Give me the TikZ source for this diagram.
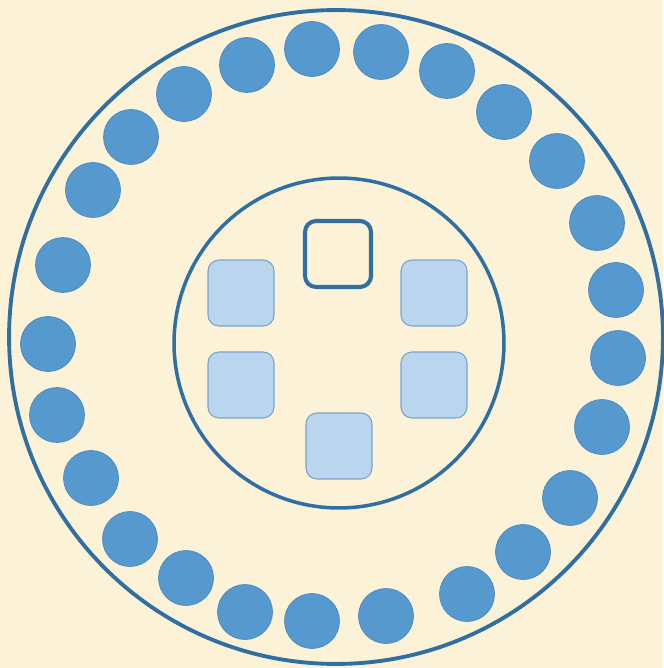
\documentclass[tikz,border=0pt]{standalone}
\usepackage{tikz}
\definecolor{bgcream}{HTML}{FCF2D7}
\definecolor{ringblue}{HTML}{2F6FA3}
\definecolor{dotblue}{HTML}{5599CF}
\definecolor{dotedge}{HTML}{4A88BF}
\definecolor{boxfill}{HTML}{BAD6EE}
\definecolor{boxedge}{HTML}{7AA3CC}
\tikzset{
    ring/.style={draw=ringblue, line width=2.2pt},
    seat/.style={circle, fill=dotblue, draw=dotedge, line width=0.4pt, minimum size=1.1cm, inner sep=0pt},
    tablebox/.style={rectangle, rounded corners=0.22cm, minimum size=1.32cm, inner sep=0pt, fill=boxfill, draw=boxedge, line width=0.6pt},
    emptybox/.style={rectangle, rounded corners=0.22cm, minimum size=1.32cm, inner sep=0pt, draw=ringblue, line width=2.3pt}
}

\begin{document}
\begin{tikzpicture}[x=0.02cm, y=-0.02cm]
    % Background
    \fill[bgcream] (0,0) rectangle (663,668);
    \useasboundingbox (0,0) rectangle (663,668);

    % Draw rings
    \draw[ring] (336,337) circle (6.54cm);
    \draw[ring, line width=2pt] (339,343) circle (3.3cm);

    % Draw seats
    \foreach \x/\y [count=\i] in {312/49, 381/52, 447/71, 504/112, 557/161,
        597/223, 616/290, 618/358, 602/427, 570/498, 523/552, 467/594,
        386/616, 312/621, 245/612, 186/578, 130/539, 91/478, 57/415,
        48/344, 63/265, 93/190, 131/137, 184/94, 247/65} {
        \node[seat] (seat\i) at (\x,\y) {};
    }

    % Draw boxes
    \node[emptybox] (top) at (338,254) {};
    \node[tablebox] (lefttop) at (241,293) {};
    \node[tablebox] (righttop) at (434,293) {};
    \node[tablebox] (leftbottom) at (241,385) {};
    \node[tablebox] (rightbottom) at (434,385) {};
    \node[tablebox] (bottom) at (339,446) {};
\end{tikzpicture}
\end{document}
